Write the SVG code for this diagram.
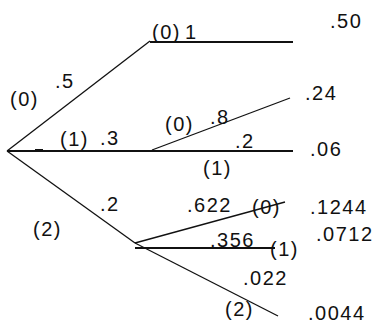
<svg xmlns="http://www.w3.org/2000/svg" width="378" height="326" viewBox="0 0 378 326">
<style>
text{font-family:"Liberation Sans",Arial,sans-serif;font-size:20px;fill:#111;letter-spacing:1.5px}
.l{stroke:#111;stroke-width:1.3;fill:none}
.h{stroke:#111;stroke-width:2;fill:none}
</style>
<rect width="378" height="326" fill="#fff"/>
<g id="connectors">
<line class="l" x1="7" y1="151" x2="150" y2="41"/>
<line class="h" x1="150" y1="42" x2="293" y2="42"/>
<line class="h" x1="7" y1="151" x2="293" y2="151"/>
<line class="l" x1="152" y1="150" x2="290" y2="98"/>
<line class="l" x1="7" y1="151" x2="135" y2="243"/>
<line class="l" x1="135" y1="243" x2="285" y2="202"/>
<line class="h" x1="135" y1="248" x2="275" y2="248"/>
<line class="l" x1="135" y1="243" x2="278" y2="316"/>
<rect x="35" y="149" width="8" height="3" fill="#111"/>
</g>
<g id="root">
<text x="10" y="106">(0)</text>
<text x="55" y="88">.5</text>
<text x="60" y="146">(1)</text>
<text x="100" y="145">.3</text>
<text x="33" y="236">(2)</text>
<text x="100" y="211">.2</text>
</g>
<g id="node-0">
<text x="152" y="39">(0)</text>
<text x="185" y="39">1</text>
</g>
<g id="node-1">
<text x="165" y="131">(0)</text>
<text x="210" y="124">.8</text>
<text x="235" y="148">.2</text>
<text x="203" y="175">(1)</text>
</g>
<g id="node-2">
<text x="187" y="212">.622</text>
<text x="252" y="214">(0)</text>
<text x="210" y="247">.356</text>
<text x="270" y="256">(1)</text>
<text x="243" y="285">.022</text>
<text x="225" y="316">(2)</text>
</g>
<g id="leaves">
<text x="330" y="28">.50</text>
<text x="305" y="100">.24</text>
<text x="310" y="156">.06</text>
<text x="310" y="214">.1244</text>
<text x="316" y="241">.0712</text>
<text x="308" y="320">.0044</text>
</g>
</svg>
